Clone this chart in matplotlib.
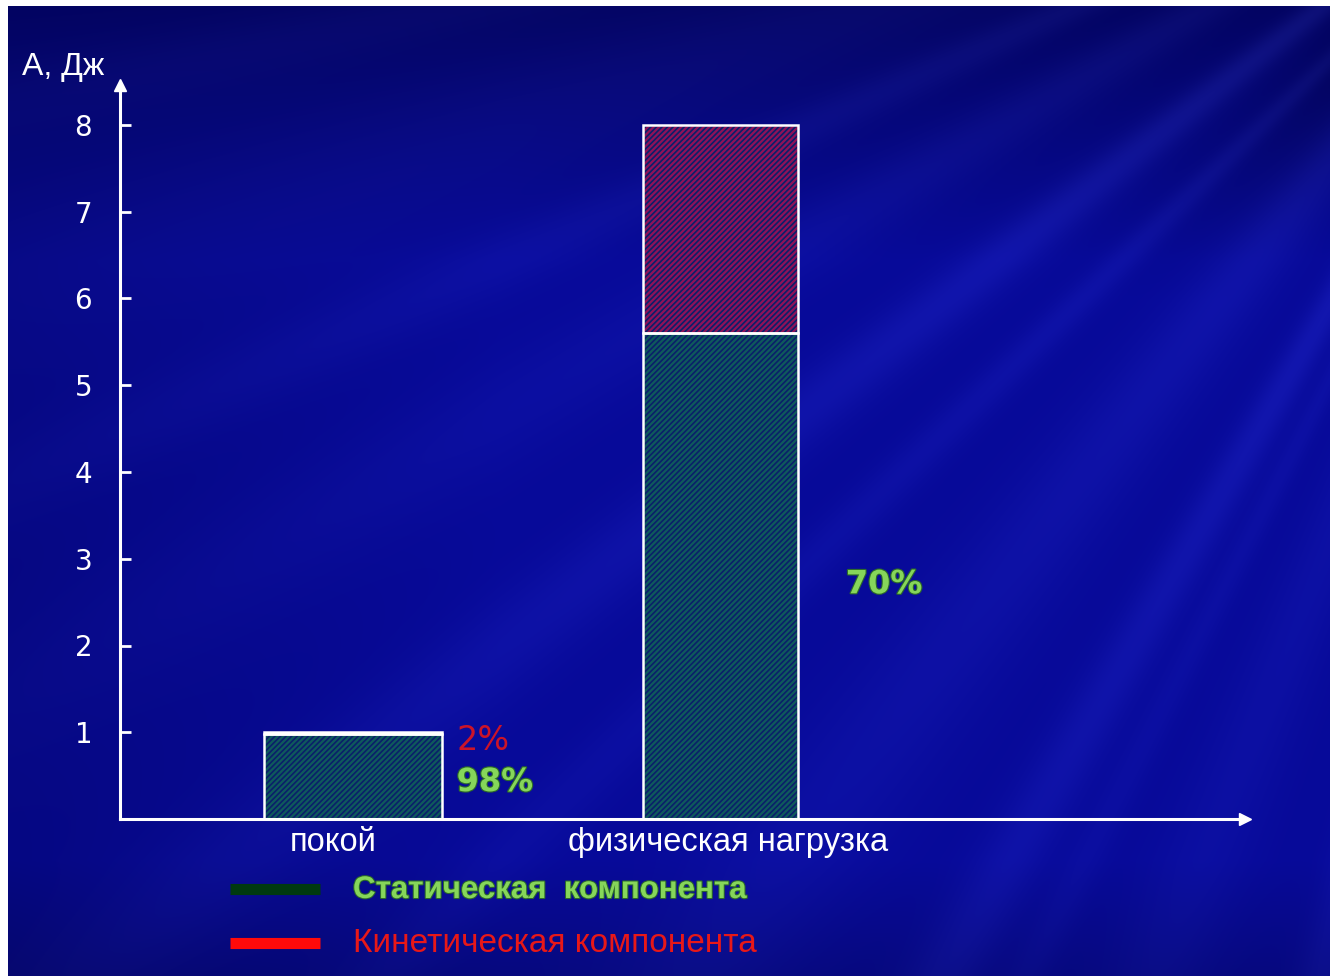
import numpy as np
import matplotlib
matplotlib.use("Agg")
import matplotlib.pyplot as plt
import matplotlib.patheffects as pe

# --- data -------------------------------------------------------------
categories = ["покой", "физическая нагрузка"]
totals = [1.0, 8.0]            # A, Дж
static_share = [98, 70]        # %
kinetic_share = [2, 30]        # %
y_ticks = [1, 2, 3, 4, 5, 6, 7, 8]
y_label = "А, Дж"
legend_labels = ["Статическая  компонента", "Кинетическая компонента"]

static_vals = [t * s / 100 for t, s in zip(totals, static_share)]
kinetic_vals = [t * k / 100 for t, k in zip(totals, kinetic_share)]

# --- figure -----------------------------------------------------------
W, H, DPI = 1330, 976, 100
fig = plt.figure(figsize=(W / DPI, H / DPI), dpi=DPI)

# background: deep blue with soft light rays from the upper right
yy, xx = np.mgrid[0:H, 0:W].astype(float)
t = np.clip(yy / 260.0, 0, 1)
s = np.clip(xx / 500.0, 0, 1)
mix = np.clip(0.35 + 0.65 * t * (0.6 + 0.4 * s), 0, 1)
top_col = np.array([0.0, 0.0, 0.26])
mid_col = np.array([0.03, 0.04, 0.60])
base = top_col + (mid_col - top_col) * mix[..., None]
fade_bottom = np.clip((yy - 860) / 120.0, 0, 1)
base = base * (1 - 0.18 * fade_bottom[..., None])

fx, fy = 1650.0, -250.0
ang = np.degrees(np.arctan2(yy - fy, fx - xx))
dist = np.hypot(xx - fx, yy - fy)
rays = [(38, 1.2, 0.12), (44, 0.8, 0.08), (52, 2.0, 0.09), (60, 1.0, 0.12),
        (68, 1.5, 0.07), (75, 0.8, 0.10), (30, 1.5, 0.07), (24, 1.0, 0.08),
        (18, 2.5, 0.06), (12, 1.0, 0.07), (63, 0.6, 0.06), (83, 1.2, 0.06)]
glow = np.zeros((H, W))
for a0, w, amp in rays:
    glow += amp * np.exp(-0.5 * ((ang - a0) / w) ** 2)
glow *= np.clip(1.3 - dist / 2000.0, 0, 1)
base = base + glow[..., None] * np.array([0.35, 0.4, 0.7])
# darker diagonal bands near the top
dark = 0.10 * np.exp(-0.5 * ((ang - 48) / 4) ** 2) * np.clip(1 - yy / 300.0, 0, 1)
base = base * (1 - dark[..., None] * 2)
# thin bright streak at the lower right
streak = 0.2 * np.exp(-0.5 * ((ang - 14.5) / 0.6) ** 2) * (xx > 950)
base = base + streak[..., None] * np.array([0.4, 0.45, 0.7])
base = np.clip(base, 0, 1)
base[:, :8] = 1.0
base[:6, :] = 1.0

bg = fig.add_axes([0, 0, 1, 1])
bg.imshow(base, aspect="auto", extent=(0, W, H, 0), interpolation="bilinear")
bg.set_xlim(0, W)
bg.set_ylim(H, 0)
bg.axis("off")

# --- main axes (pixel-aligned layout) ---------------------------------
x0_px, x1_px = 120, 1245
y0_px, ytop_px = 819, 85
unit_px = (819 - 125) / 8.0
ax = fig.add_axes([x0_px / W, 1 - y0_px / H, (x1_px - x0_px) / W, (y0_px - ytop_px) / H])
ax.patch.set_alpha(0)

pos = np.array([0.0, 1.0])
widths = [0.484, 0.422]
ax.set_xlim(-0.634, 2.427)
ax.set_ylim(0, (y0_px - ytop_px) / unit_px)

static_face = "#0f5a5c"
kinetic_face = "#8e1259"
hatch_col = "#0a1f6a"
plt.rcParams["hatch.linewidth"] = 1.2

for face, bottoms, vals in [(static_face, [0, 0], static_vals),
                            (kinetic_face, static_vals, kinetic_vals)]:
    ax.bar(pos, vals, width=widths, bottom=bottoms, color=face, edgecolor="none",
           linewidth=0, zorder=2)
    ax.bar(pos, vals, width=widths, bottom=bottoms, color="none",
           edgecolor=hatch_col, hatch="//////", linewidth=0, zorder=3)
    ax.bar(pos, vals, width=widths, bottom=bottoms, color="none",
           edgecolor="white", linewidth=1.8, zorder=4)

# axes: white arrows
for sp in ["top", "right"]:
    ax.spines[sp].set_visible(False)
for sp in ["left", "bottom"]:
    ax.spines[sp].set_color("white")
    ax.spines[sp].set_linewidth(2.2)
    ax.spines[sp].set_zorder(5)
ax.plot([0], [1], marker="^", ms=9, color="white", transform=ax.transAxes,
        clip_on=False, zorder=6)
ax.plot([1], [0], marker=">", ms=9, color="white", transform=ax.transAxes,
        clip_on=False, zorder=6)

ax.set_yticks(y_ticks)
ax.set_yticklabels([str(v) for v in y_ticks])
ax.tick_params(axis="y", direction="in", length=8, width=2, color="white",
               labelcolor="white", labelsize=20, pad=20)
for lab in ax.get_yticklabels():
    lab.set_family("DejaVu Sans")
ax.set_xticks(pos - np.array([0.055, -0.02]))
ax.set_xticklabels(categories, family="Liberation Sans", fontsize=23.5, color="white")
ax.tick_params(axis="x", length=0, pad=6)

fig.text(22 / W, 1 - 67 / H, y_label, family="Liberation Sans", fontsize=23,
         color="white", va="center", ha="left")

# percentage labels beside the bars
green = "#86d65a"
outline = [pe.withStroke(linewidth=1.6, foreground="#2c6a2a")]
right_edge = pos + np.array(widths) / 2
label_dx = 0.04
ax.text(right_edge[0] + label_dx, totals[0] - 0.1, f"{kinetic_share[0]}%",
        color="#cc1428", fontsize=24, family="DejaVu Sans", va="center", ha="left")
ax.text(right_edge[0] + label_dx, 0.42, f"{static_share[0]}%", color=green,
        fontsize=23, family="DejaVu Sans", weight="bold", va="center", ha="left",
        path_effects=outline)
ax.text(right_edge[1] + 0.13, 2.7, f"{static_share[1]}%", color=green,
        fontsize=23, family="DejaVu Sans", weight="bold", va="center", ha="left",
        path_effects=outline)

# legend drawn as colour strips with captions
bg.plot([230, 320], [889, 889], color="#003a10", lw=8, solid_capstyle="butt")
bg.plot([230, 320], [943, 943], color="#ff0a0a", lw=8, solid_capstyle="butt")
bg.text(353, 890, legend_labels[0], family="Liberation Sans", weight="bold",
        fontsize=22.5, color=green, va="center", ha="left",
        path_effects=[pe.withStroke(linewidth=1.5, foreground="#2c6a2a")])
bg.text(353, 944, legend_labels[1], family="Liberation Sans", fontsize=24,
        color="#e81818", va="center", ha="left")

fig.savefig("out.png", dpi=DPI)
